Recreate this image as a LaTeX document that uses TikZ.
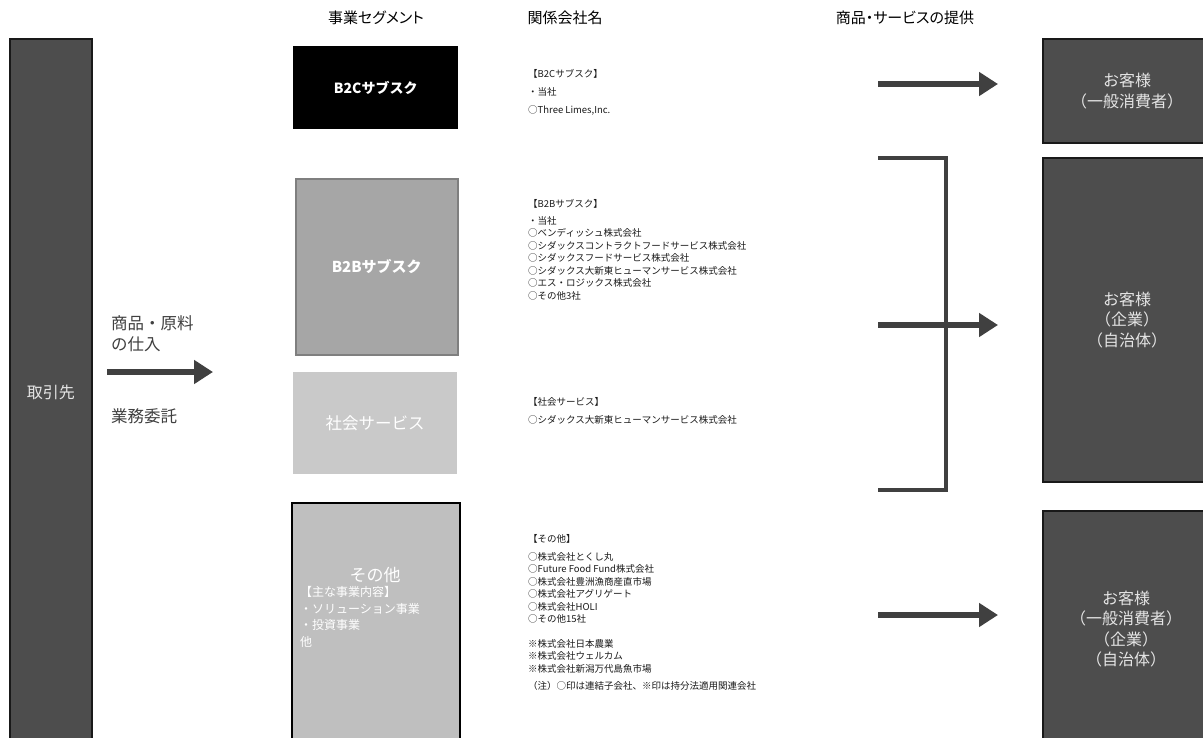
\documentclass[tikz,border=0pt]{standalone}
\usepackage{fontspec}
\setmainfont{Noto Sans CJK JP}
\newfontfamily\hdr{Noto Sans CJK JP}[RawFeature=+palt]
\usetikzlibrary{arrows.meta}
\definecolor{darkfill}{HTML}{4D4D4D}
\definecolor{arrowgray}{HTML}{404040}
\definecolor{midgray}{HTML}{A6A6A6}
\definecolor{midborder}{HTML}{7F7F7F}
\definecolor{lightgray}{HTML}{C9C9C9}
\definecolor{othergray}{HTML}{BFBFBF}
\definecolor{listtext}{HTML}{1A1A1A}
\begin{document}
\begin{tikzpicture}[x=1pt,y=-1pt,
  darkbox/.style={draw=black!90, line width=2pt, fill=darkfill, text=white!90!black,
    inner sep=0pt, anchor=north west, align=center, font=\fontsize{16}{20.5}\selectfont},
  segbox/.style={inner sep=0pt, anchor=north west, align=center, text=white},
  hdrtext/.style={font=\hdr\fontsize{15}{18}\selectfont, text=black},
  listtext/.style={anchor=north west, align=left, inner sep=0pt, text=listtext,
    font=\fontsize{9.5}{12.5}\selectfont},
  sidetext/.style={anchor=west, inner sep=0pt, text=arrowgray, align=left,
    font=\fontsize{16.5}{21}\selectfont},
  arr/.style={draw=arrowgray, line width=5.5pt,
    -{Triangle[length=19pt,width=23pt]}},
  bracketline/.style={draw=arrowgray, line width=4.5pt, line join=miter, line cap=butt}
]
\useasboundingbox (0,0) rectangle (1203,737);
\clip (0,0) rectangle (1203,737);
\fill[white] (0,0) rectangle (1203,737);

% headers
\node[hdrtext] (h1) at (376,18) {事業セグメント};
\node[hdrtext] (h2) at (565,18) {関係会社名};
\node[hdrtext] (h3) at (905,18) {商品・サービスの提供};

% left supplier box
\node[darkbox, minimum width=82pt, minimum height=707pt] (torihiki) at (9,38) {取引先};

% segment boxes
\node[segbox, fill=black, minimum width=165pt, minimum height=83pt,
  font=\bfseries\fontsize{14}{18}\selectfont] (b2c) at (293,46) {B2Cサブスク};
\node[segbox, fill=midgray, draw=midborder, line width=1.5pt, minimum width=162pt, minimum height=176pt,
  font=\bfseries\fontsize{15}{18}\selectfont] (b2b) at (295,178) {B2Bサブスク};
\node[segbox, fill=lightgray, minimum width=164pt, minimum height=102pt,
  font=\fontsize{16.5}{18}\selectfont] (shakai) at (293,372) {社会サービス};
\node[segbox, fill=othergray, draw=black, line width=2pt, minimum width=168pt, minimum height=245pt]
  (sonota) at (291,502) {};
\node[text=white, inner sep=0pt, font=\fontsize{17}{20}\selectfont] (sonotatitle) at (375,575) {その他};
\node[anchor=north west, inner sep=0pt, align=left, text=white,
  font=\fontsize{12}{16.8}\selectfont] (sonotalist) at (300,586)
  {【主な事業内容】\\・ソリューション事業\\・投資事業\\他};

% company lists
\node[listtext] (l1) at (528,69) {【B2Cサブスク】\\[5.5pt]・当社\\[6pt]○Three Limes,Inc.};
\node[listtext] (l2) at (528,199) {【B2Bサブスク】\\[4.5pt]・当社\\○ベンディッシュ株式会社\\○シダックスコントラクトフードサービス株式会社\\○シダックスフードサービス株式会社\\○シダックス大新東ヒューマンサービス株式会社\\○エス・ロジックス株式会社\\○その他3社};
\node[listtext] (l3) at (528,397) {【社会サービス】\\[5.5pt]○シダックス大新東ヒューマンサービス株式会社};
\node[listtext] (l4) at (528,534) {【その他】\\[5.5pt]○株式会社とくし丸\\○Future Food Fund株式会社\\○株式会社豊洲漁商産直市場\\○株式会社アグリゲート\\○株式会社HOLI\\○その他15社\\[12pt]※株式会社日本農業\\※株式会社ウェルカム\\※株式会社新潟万代島魚市場\\[5pt]（注）○印は連結子会社、※印は持分法適用関連会社};

% left labels and arrow
\node[sidetext] (shiire) at (111,334) {商品・原料\\の仕入};
\node[sidetext] (itaku) at (111,416) {業務委託};
\coordinate (la0) at (107,372);
\coordinate (la1) at (213,372);
\draw[arr] (la0) -- (la1);

% customer boxes
\node[darkbox, minimum width=168pt, minimum height=104pt] (cust1) at (1042,38) {お客様\\（一般消費者）};
\node[darkbox, minimum width=168pt, minimum height=324pt] (cust2) at (1042,157) {お客様\\（企業）\\（自治体）};
\node[darkbox, minimum width=168pt, minimum height=240pt] (cust3) at (1042,510) {};
\node[text=white!90!black, inner sep=0pt, align=center, font=\fontsize{16}{20.5}\selectfont]
  (cust3text) at (1126,629) {お客様\\（一般消費者）\\（企業）\\（自治体）};

% right arrows
\coordinate (ra0) at (878,84);
\coordinate (ra1) at (998,84);
\draw[arr] (ra0) -- (ra1);
\coordinate (rb0) at (878,325);
\coordinate (rb1) at (998,325);
\draw[arr] (rb0) -- (rb1);
\coordinate (rc0) at (878,615);
\coordinate (rc1) at (998,615);
\draw[arr] (rc0) -- (rc1);

% bracket
\coordinate (bk0) at (878,158);
\coordinate (bk1) at (946,158);
\coordinate (bk2) at (946,490);
\coordinate (bk3) at (878,490);
\draw[bracketline] (bk0) -- (bk1) -- (bk2) -- (bk3);
\end{tikzpicture}
\end{document}
